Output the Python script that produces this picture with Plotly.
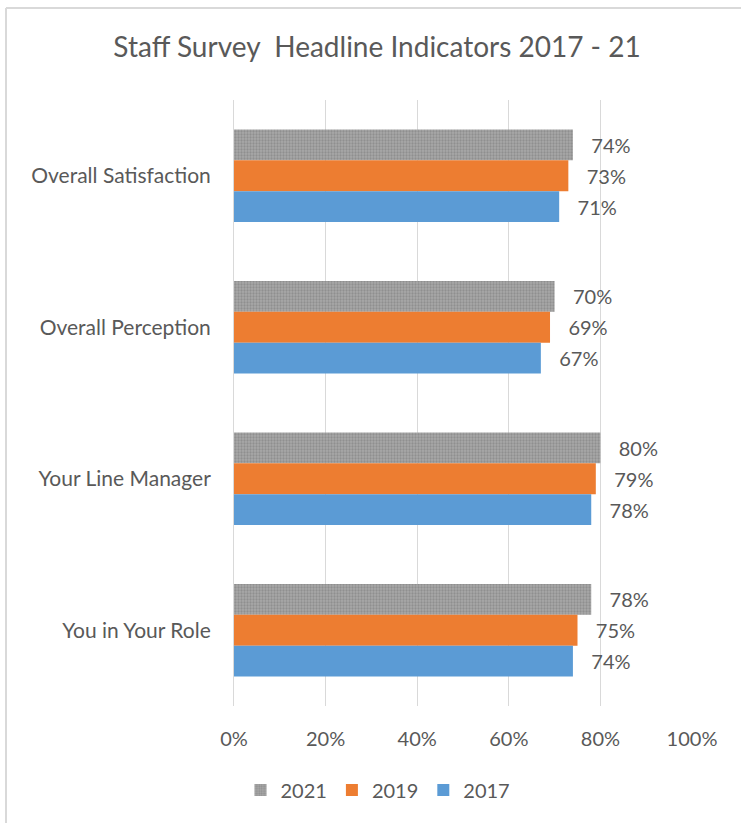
import plotly.graph_objects as go

categories = ["Overall Satisfaction", "Overall Perception", "Your Line Manager", "You in Your Role"]
years = ["2021", "2019", "2017"]
v2021 = [0.74, 0.70, 0.80, 0.78]
v2019 = [0.73, 0.69, 0.79, 0.75]
v2017 = [0.71, 0.67, 0.78, 0.74]
series = [v2021, v2019, v2017]
colors = ["#A5A5A5", "#ED7D31", "#5B9BD5"]
tick_vals = [0, 0.2, 0.4, 0.6, 0.8, 1.0]
tick_text = ["0%", "20%", "40%", "60%", "80%", "100%"]

FONT = "Lato, Open Sans, sans-serif"
TXT = "#595959"

fig = go.Figure()
for name, vals, col in zip(years, series, colors):
    marker = dict(color=col, line=dict(width=0))
    if name == "2021":
        marker["pattern"] = dict(shape=".", fgcolor="#8F8F8F", bgcolor="#A9A9A9",
                                 size=3, solidity=0.45, fillmode="replace")
    fig.add_trace(go.Bar(
        y=categories, x=vals, name=name, orientation="h",
        marker=marker,
        text=[f"\u00a0\u00a0\u00a0{round(v*100)}%" for v in vals],
        textposition="outside",
        textfont=dict(family=FONT, size=20, color=TXT),
        cliponaxis=False,
    ))

W, H = 741, 823
L, R, T, B = 234, 49, 100, 117
pw, ph = W - L - R, H - T - B

def px_x(p):
    return (p - L) / pw

def px_y(p):
    return (H - B - p) / ph

fig.update_layout(
    width=W, height=H,
    margin=dict(l=L, r=R, t=T, b=B),
    paper_bgcolor="white", plot_bgcolor="white",
    barmode="group", bargap=0.39, bargroupgap=0,
    uniformtext=dict(mode=False),
    title=dict(text="Staff Survey  Headline Indicators 2017 - 21",
               x=377 / W, xanchor="center", y=1 - 47 / H, yanchor="middle",
               font=dict(family=FONT, size=28, color=TXT)),
    font=dict(family=FONT, color=TXT),
    legend=dict(orientation="h", x=px_x(378), xanchor="center",
                y=px_y(790), yanchor="middle",
                font=dict(family=FONT, size=20, color=TXT),
                traceorder="normal", itemwidth=30),
    showlegend=True,
    xaxis=dict(range=[0, 1.0], tickvals=tick_vals, ticktext=tick_text,
               showgrid=True, gridcolor="#D9D9D9", gridwidth=1,
               zeroline=False, showline=False,
               tickfont=dict(family=FONT, size=20, color=TXT),
               ticklabelstandoff=19, fixedrange=True),
    yaxis=dict(categoryorder="array", categoryarray=categories,
               autorange="reversed", showgrid=False, zeroline=False,
               showline=True, linecolor="#D9D9D9", linewidth=1,
               tickfont=dict(family=FONT, size=21, color=TXT),
               ticklabelstandoff=18),
    shapes=[
        dict(type="line", xref="paper", yref="paper",
             x0=px_x(6), x1=px_x(W + 5), y0=px_y(8), y1=px_y(8),
             line=dict(color="#D9D9D9", width=2)),
        dict(type="line", xref="paper", yref="paper",
             x0=px_x(6), x1=px_x(6), y0=px_y(8), y1=px_y(H + 5),
             line=dict(color="#D9D9D9", width=2)),
    ],
)

fig.write_html("out.html")
